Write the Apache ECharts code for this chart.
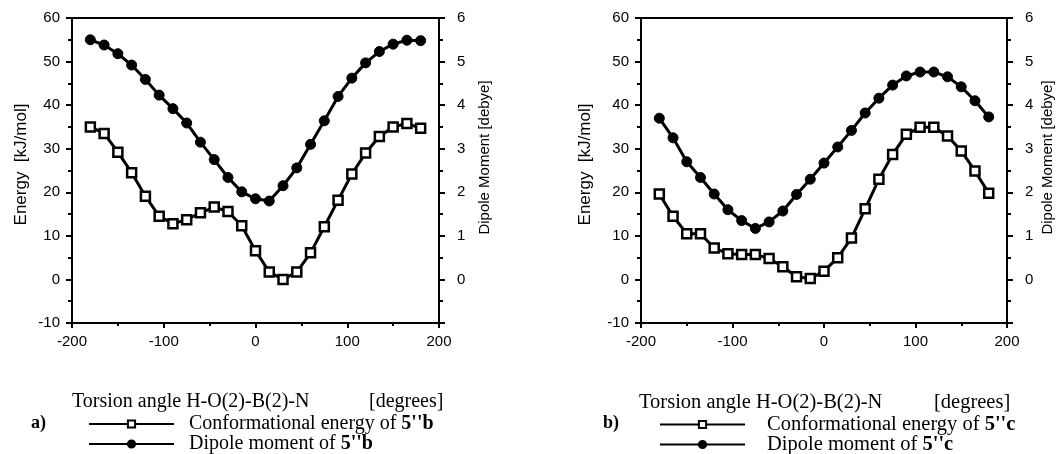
<!DOCTYPE html>
<html>
<head>
<meta charset="utf-8">
<script src="https://cdn.jsdelivr.net/npm/echarts@6/dist/echarts.min.js"></script>
<style>
  html, body { margin: 0; padding: 0; background: #fff; }
  #chart { width: 1061px; height: 454px; }
</style>
</head>
<body>
<div id="chart"></div>
<script>
// torsion angles H-O(2)-B(2)-N, every 15 degrees
const angles = [-180, -165, -150, -135, -120, -105, -90, -75, -60, -45, -30, -15, 0,
  15, 30, 45, 60, 75, 90, 105, 120, 135, 150, 165, 180];

// a) 5''b
const energyB = [35.0, 33.5, 29.2, 24.5, 19.1, 14.5, 12.8, 13.7, 15.3, 16.6, 15.6, 12.3, 6.6,
  1.7, 0.0, 1.7, 6.1, 12.1, 18.2, 24.2, 29.0, 32.8, 35.0, 35.8, 34.7];
const dipoleB = [5.50, 5.38, 5.18, 4.92, 4.59, 4.23, 3.92, 3.59, 3.15, 2.75, 2.34, 2.01, 1.85,
  1.80, 2.15, 2.56, 3.10, 3.64, 4.20, 4.62, 4.97, 5.23, 5.40, 5.49, 5.48];

// b) 5''c
const energyC = [19.6, 14.5, 10.5, 10.5, 7.2, 5.9, 5.7, 5.7, 4.8, 2.9, 0.6, 0.2, 1.9,
  5.0, 9.5, 16.2, 23.0, 28.7, 33.3, 34.9, 34.9, 32.9, 29.5, 24.9, 19.8];
const dipoleC = [3.70, 3.25, 2.70, 2.34, 1.96, 1.60, 1.35, 1.17, 1.32, 1.57, 1.95, 2.30, 2.67,
  3.04, 3.42, 3.82, 4.16, 4.46, 4.67, 4.76, 4.76, 4.65, 4.42, 4.10, 3.73];

const namesB = ["Conformational energy of 5''b", "Dipole moment of 5''b"];
const namesC = ["Conformational energy of 5''c", "Dipole moment of 5''c"];

const sans = "'Liberation Sans', Arial, sans-serif";
const serif = "'Liberation Serif', 'Times New Roman', serif";
const ink = '#000';

function pairs(ys) {
  return angles.map((a, i) => [a, ys[i]]);
}

const tickLine = { color: ink, width: 2 };

function xAxis(gi) {
  return {
    type: 'value', gridIndex: gi, min: -200, max: 200, interval: 100,
    axisLine: { onZero: false, lineStyle: { color: ink, width: 2 } },
    axisTick: { length: 5, lineStyle: tickLine },
    minorTick: { show: true, splitNumber: 2, length: 3, lineStyle: tickLine },
    splitLine: { show: false },
    axisLabel: { color: ink, fontFamily: sans, fontSize: 15, margin: 11 }
  };
}

function energyAxis(gi, gap) {
  return {
    type: 'value', gridIndex: gi, position: 'left', min: -10, max: 60, interval: 10,
    name: 'Energy  [kJ/mol]', nameLocation: 'middle', nameGap: gap,
    nameTextStyle: { color: ink, fontFamily: sans, fontSize: 17, padding: [0, 0, 0, 12] },
    axisLine: { show: true, onZero: false, lineStyle: { color: ink, width: 2 } },
    axisTick: { show: true, length: 6, lineStyle: tickLine },
    minorTick: { show: true, splitNumber: 2, length: 4, lineStyle: tickLine },
    splitLine: { show: false },
    axisLabel: { color: ink, fontFamily: sans, fontSize: 15, margin: 12 }
  };
}

function dipoleAxis(gi, gap) {
  return {
    type: 'value', gridIndex: gi, position: 'right', min: -1, max: 6, interval: 1,
    name: 'Dipole Moment [debye]', nameLocation: 'middle', nameGap: gap,
    nameTextStyle: { color: ink, fontFamily: sans, fontSize: 15, padding: [0, 0, 0, 26] },
    axisLine: { show: true, onZero: false, lineStyle: { color: ink, width: 2 } },
    axisTick: { show: true, length: 6, lineStyle: tickLine },
    minorTick: { show: true, splitNumber: 2, length: 4, lineStyle: tickLine },
    splitLine: { show: false },
    axisLabel: {
      color: ink, fontFamily: sans, fontSize: 15, margin: 18,
      formatter: v => (v < 0 ? '' : String(v))
    }
  };
}

function energySeries(name, xi, yi, ys) {
  return {
    name: name, type: 'line', xAxisIndex: xi, yAxisIndex: yi, data: pairs(ys),
    symbol: 'rect', symbolSize: 9,
    lineStyle: { color: ink, width: 3 },
    itemStyle: { color: '#fff', borderColor: ink, borderWidth: 2.5 }
  };
}

function dipoleSeries(name, xi, yi, ys) {
  return {
    name: name, type: 'line', xAxisIndex: xi, yAxisIndex: yi, data: pairs(ys),
    symbol: 'circle', symbolSize: 10,
    lineStyle: { color: ink, width: 3 },
    itemStyle: { color: ink, borderColor: ink, borderWidth: 1 }
  };
}

// one legend box per entry, so the lower row may run to the page edge like the scan
function legend(name, left, top, pad, size) {
  return {
    data: [name], orient: 'vertical', left: left, top: top, padding: 0,
    itemWidth: 85, itemHeight: 9, selectedMode: false,
    formatter: function (n) {
      const i = n.lastIndexOf(' ');
      return '{n|' + n.slice(0, i + 1) + '}{b|' + n.slice(i + 1) + '}';
    },
    textStyle: {
      rich: {
        n: { fontFamily: serif, fontSize: size, lineHeight: 20, color: ink, padding: [0, 0, 0, pad] },
        b: { fontFamily: serif, fontSize: size, lineHeight: 20, fontWeight: 'bold', color: ink }
      }
    }
  };
}

const chart = echarts.init(document.getElementById('chart'), null, { renderer: 'canvas' });

chart.setOption({
  animation: false,
  backgroundColor: '#fff',
  grid: [
    { left: 72, right: 622, top: 18, bottom: 131, show: true, borderColor: ink, borderWidth: 2 },
    { left: 641, right: 54, top: 18, bottom: 131, show: true, borderColor: ink, borderWidth: 2 }
  ],
  xAxis: [xAxis(0), xAxis(1)],
  yAxis: [energyAxis(0, 42), dipoleAxis(0, 38), energyAxis(1, 47), dipoleAxis(1, 33)],
  legend: [
    legend(namesB[0], 88, 414, 10, 20),
    legend(namesB[1], 88, 434, 10, 20),
    legend(namesC[0], 659, 414, 17, 20.5),
    legend(namesC[1], 659, 434, 17, 20.5)
  ],
  series: [
    energySeries(namesB[0], 0, 0, energyB),
    dipoleSeries(namesB[1], 0, 1, dipoleB),
    energySeries(namesC[0], 1, 2, energyC),
    dipoleSeries(namesC[1], 1, 3, dipoleC)
  ],
  graphic: [
    { type: 'text', left: 72, top: 392, style: { text: 'Torsion angle H-O(2)-B(2)-N', font: '20px ' + serif, fill: ink } },
    { type: 'text', left: 369, top: 392, style: { text: '[degrees]', font: '20px ' + serif, fill: ink } },
    { type: 'text', left: 31, top: 414, style: { text: 'a)', font: 'bold 18px ' + serif, fill: ink } },
    { type: 'text', left: 639, top: 392, style: { text: 'Torsion angle H-O(2)-B(2)-N', font: '20.5px ' + serif, fill: ink } },
    { type: 'text', left: 934, top: 392, style: { text: '[degrees]', font: '20.5px ' + serif, fill: ink } },
    { type: 'text', left: 603, top: 414, style: { text: 'b)', font: 'bold 18px ' + serif, fill: ink } }
  ]
});
</script>
</body>
</html>
